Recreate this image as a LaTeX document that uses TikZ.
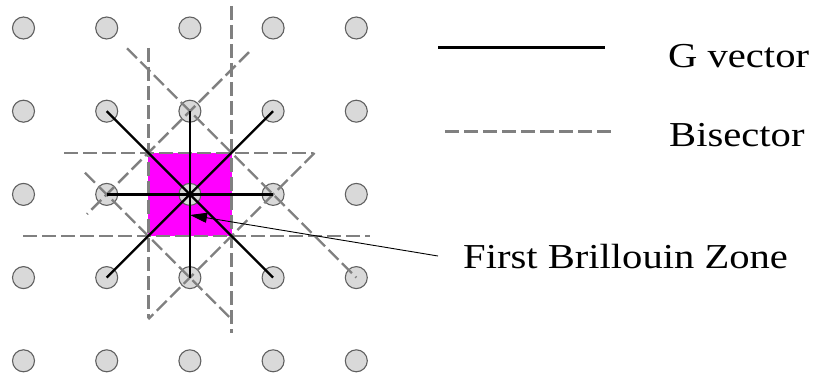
\documentclass[tikz,border=0pt]{standalone}
\usepackage{fontspec}
\setmainfont{Liberation Serif}
\newfontfamily\labfont[FakeStretch=1.16]{Liberation Serif}
\usetikzlibrary{arrows.meta}
\definecolor{dotfill}{HTML}{D9D9D9}
\definecolor{dotline}{HTML}{606060}
\definecolor{bisgray}{HTML}{808080}
\definecolor{zonemag}{HTML}{FF00FF}
\begin{document}
\begin{tikzpicture}[x=1pt,y=-1pt,
  dot/.style={circle,minimum size=22pt,inner sep=0pt,fill=dotfill,draw=dotline,line width=1.1pt},
  bis/.style={draw=bisgray,line width=2.4pt,dash pattern=on 14pt off 5pt},
  gvec/.style={draw=black,line width=2.3pt},
  lab/.style={anchor=base west,inner sep=0pt,font=\labfont\fontsize{35pt}{40pt}\selectfont}
]
\useasboundingbox (0,0) rectangle (814,377);
% first Brillouin zone
\fill[zonemag] (148.3,152.8) rectangle (231.5,236);
% lattice points
\foreach \i in {0,...,4}{\foreach \j in {0,...,4}{
  \node[dot] (c\i\j) at ({23.5+83.2*\i},{28+83.2*\j}) {};}}
% bisectors
\draw[bis] (148.3,48) -- (148.3,318);
\draw[bis] (231.5,6) -- (231.5,333);
\draw[bis] (64,152.8) -- (313,152.8);
\draw[bis] (23,236) -- (370,236);
\draw[bis] (127,48.3) -- (356.3,277.6);
\draw[bis] (249,52.1) -- (87,214.1);
\draw[bis] (85,172.7) -- (231.5,319.2);
\draw[bis] (314.5,153) -- (148.3,319.2);
% G vectors
\foreach \n in {c11,c31,c13,c33,c12,c32}{\draw[gvec] (c22.center) -- (\n.center);}
\foreach \n in {c21,c23}{\draw[gvec,line width=1.6pt] (c22.center) -- (\n.center);}
% legend
\coordinate (gl1) at (438,47.7);
\coordinate (gl2) at (604.7,47.7);
\coordinate (bl1) at (445,131.7);
\coordinate (bl2) at (611.7,131.7);
\draw[gvec,line width=2.6pt] (gl1) -- (gl2);
\draw[bis] (bl1) -- (bl2);
\node[lab] (gv) at (668,67.7) {G vector};
\node[lab] (bs) at (669,147) {Bisector};
\node[lab] (fbz) at (463,268) {First Brillouin Zone};
% pointer
\coordinate (arrowstart) at (438,256);
\coordinate (arrowtip) at (190,215);
\draw[line width=0.9pt,-{Triangle[length=17pt,width=10pt]}] (arrowstart) -- (arrowtip);
\end{tikzpicture}
\end{document}
